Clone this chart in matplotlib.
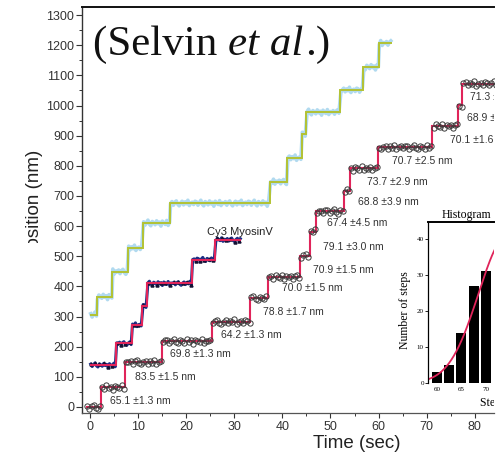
import numpy as np
import matplotlib
matplotlib.use("Agg")
import matplotlib.pyplot as plt
from matplotlib import font_manager
from matplotlib.transforms import Bbox
from matplotlib.ticker import MultipleLocator

# ---------------- data ----------------
# bottom trace: open circles + red step fit
trace3_levels = [0, 65.1, 148.6, 218.4, 282.6, 361.4, 431.4, 502.3, 581.4,
                 648.8, 717.6, 791.3, 862.0, 932.1, 1001.0, 1072.3]
trace3_edges = [-0.8, 2.3, 7.3, 14.9, 25.3, 33.3, 37.0, 43.7, 45.7, 46.9,
                52.8, 54.0, 59.9, 71.2, 76.6, 77.4, 86.0]
step_labels = ["65.1 \u00b11.3 nm", "83.5 \u00b11.5 nm", "69.8 \u00b11.3 nm",
               "64.2 \u00b11.3 nm", "78.8 \u00b11.7 nm", "70.0 \u00b11.5 nm",
               "70.9 \u00b11.5 nm", "79.1 \u00b13.0 nm", "67.4 \u00b14.5 nm",
               "68.8 \u00b13.9 nm", "73.7 \u00b12.9 nm", "70.7 \u00b12.5 nm",
               "70.1 \u00b11.6 nm", "68.9 \u00b11.5 nm", "71.3 \u00b11.4 nm"]
label_t = [4.2, 9.4, 16.6, 27.2, 35.9, 39.9, 46.4, 48.4, 49.3, 55.7, 57.6,
           62.8, 74.8, 78.4, 79.0]
label_v = [20, 100, 176, 239, 315, 395, 454, 530, 610, 680, 746, 816, 886,
           959, 1029]

# Cy3 MyosinV trace: dark blue points + red step fit
cy3_levels = [139, 211, 272, 335, 410, 489, 555]
cy3_edges = [0.0, 5.4, 8.7, 10.9, 11.9, 21.2, 26.0, 31.5]

# upper trace: light-blue points + yellow-green step fit
green_levels = [305, 366, 449, 527, 610, 676, 747, 826, 905, 978, 1051,
                1128, 1207]
green_edges = [0.0, 1.4, 4.6, 7.9, 11.0, 16.6, 37.4, 41.0, 44.0, 45.0, 52.0,
               56.8, 60.0, 62.8]

# scatter of the measured points about the plateaus (nm, estimated)
scatter_dev = [4, -6, 2, 9, -3, -8, 5, 1, -5, 7, -2, 3, -9, 6, 0, -4, 8, -7,
               2, -1, 5, -6, 3, 7, -3, -8, 1, 6, -5, 4, -2, 9, -7, 0, 3, -4, 6]

# histogram inset
hist_centers = [60, 62.5, 65, 67.5, 70]
hist_counts = [3, 5, 14, 27, 31]
fit_mu, fit_sigma, fit_amp = 74.5, 6.0, 41.0

# ---------------- styling ----------------
names = {f.name for f in font_manager.fontManager.ttflist}
SANS = "Liberation Sans"
NARROW = "Liberation Sans Narrow" if "Liberation Sans Narrow" in names else "Liberation Sans"
LBL_SIZE = 16 if NARROW == "Liberation Sans Narrow" else 13.5
SERIF = "Liberation Serif"
RED = "#e0245a"
TXT = "#333333"

W, H = 502, 457
RIGHT = 494  # the scanned figure ends here; the rest is white
fig = plt.figure(figsize=(W / 100, H / 100), dpi=100)
fig.patch.set_facecolor("white")


def fx(px):
    return px / W


def fy(py):
    return 1 - py / H


right_clip = Bbox([[0, 0], [RIGHT, H]])

ax = fig.add_axes([fx(82), fy(413), fx(RIGHT) - fx(82), fy(7) - fy(413)])
ax.set_xlim(-1.66, 84.0)
ax.set_ylim(-20, 1327)


def samples(levels, edges, dt, amp):
    ts, vs = [], []
    k = 0
    for i, lv in enumerate(levels):
        for t in np.arange(edges[i] + dt / 2, edges[i + 1], dt):
            ts.append(t)
            vs.append(lv + amp * scatter_dev[k % len(scatter_dev)])
            k += 1
    return np.array(ts), np.array(vs)


# upper (green) trace
gt, gv = samples(green_levels, green_edges, 0.3, 1.1)
ax.plot(gt, gv, color="#a9d6ee", lw=2.6, alpha=0.9, solid_joinstyle="round", zorder=2)
ax.stairs(green_levels, green_edges, baseline=None, color="#b3c232", lw=1.4, zorder=3)

# Cy3 trace
ct, cv = samples(cy3_levels, cy3_edges, 0.3, 0.8)
ax.plot(ct, cv, color="#1d2f85", lw=2.2, zorder=2)
ax.plot(ct[::3], cv[::3], ls="none", marker="^", ms=2.2, color="#111133", zorder=2)
ax.stairs(cy3_levels, cy3_edges, baseline=None, color=RED, lw=1.5, zorder=3)

# bottom trace
ax.stairs(trace3_levels, trace3_edges, baseline=None, color=RED, lw=1.5, zorder=3)
bt, bv = samples(trace3_levels, trace3_edges, 0.45, 0.9)
ax.plot(bt, bv, ls="none", marker="o", ms=3.8, mfc="none", mec="#3a3a3a",
        mew=0.7, zorder=4)

for s, t, v in zip(step_labels, label_t, label_v):
    ax.text(t, v, s, fontsize=7.5, family=SANS, color=TXT, va="center",
            ha="left", zorder=5, clip_on=True)
ax.text(24.3, 580, "Cy3 MyosinV", fontsize=8, family=SANS, color="#222222",
        va="center", ha="left", zorder=5)

# axes cosmetics
ax.xaxis.set_major_locator(MultipleLocator(10))
ax.xaxis.set_minor_locator(MultipleLocator(5))
ax.yaxis.set_major_locator(MultipleLocator(100))
ax.yaxis.set_minor_locator(MultipleLocator(50))
ax.tick_params(axis="y", which="major", length=4, width=0.8, pad=1.5,
               labelsize=9, colors=TXT, direction="out")
ax.tick_params(axis="y", which="minor", length=2.5, width=0.7, colors=TXT, direction="out")
ax.tick_params(axis="x", which="major", length=3.5, width=0.8, pad=2,
               labelsize=9, colors=TXT, direction="out")
ax.tick_params(axis="x", which="minor", length=2, width=0.7, colors=TXT, direction="out")
for lab in ax.get_xticklabels() + ax.get_yticklabels():
    lab.set_family(SANS)
ax.spines["right"].set_visible(False)
ax.spines["top"].set_linewidth(1.4)
ax.spines["top"].set_color("#111111")
ax.spines["left"].set_linewidth(1.0)
ax.spines["left"].set_color("#333333")
ax.spines["bottom"].set_linewidth(0.9)
ax.spines["bottom"].set_color("#555555")

# axis labels
fig.text(fx(357), fy(443), "Time (sec)", family=NARROW, fontsize=LBL_SIZE,
         color="#222222", ha="center", va="center")

r = fig.canvas.get_renderer()
ylab = fig.text(fx(35), fy(150), "Position (nm)", family=NARROW, fontsize=LBL_SIZE,
                color="#222222", rotation=90, ha="center", va="top")
prop = ylab.get_fontproperties()
w_full, _, _ = r.get_text_width_height_descent("Position (nm)", prop, ismath=False)
w_p, _, _ = r.get_text_width_height_descent("P", prop, ismath=False)
w_o, _, _ = r.get_text_width_height_descent("o", prop, ismath=False)
y_top_disp = fy(150) * H
y_clip = y_top_disp - w_full + w_p + 0.5 * w_o
ylab.set_clip_box(Bbox([[0, y_clip], [W, H]]))
ylab.set_clip_on(True)

# title "(Selvin et al.)"
yb = fy(55)
t1 = fig.text(fx(93), yb, "(Selvin ", family=SERIF, fontsize=31, va="baseline", color="#111111")
bb1 = t1.get_window_extent(r)
t2 = fig.text(bb1.x1 / W, yb, "et al", family=SERIF, style="italic", fontsize=31,
              va="baseline", color="#111111")
bb2 = t2.get_window_extent(r)
fig.text(bb2.x1 / W + 0.003, yb, ".)", family=SERIF, fontsize=31, va="baseline", color="#111111")

# ---------------- histogram inset ----------------
ins = fig.add_axes([fx(428), fy(383), fx(RIGHT) - fx(428), fy(222) - fy(383)])
ins.set_facecolor("white")
ins.bar(hist_centers, hist_counts, width=2.0, color="black")
xs = np.linspace(58.5, 74.5, 200)
ins.plot(xs, fit_amp * np.exp(-(xs - fit_mu) ** 2 / (2 * fit_sigma ** 2)),
         color=RED, lw=1.3)
ins.set_xlim(58.2, 71.65)
ins.set_ylim(0, 44.7)
ins.set_xticks([60, 65, 70])
ins.set_yticks([0, 10, 20, 30, 40])
ins.tick_params(axis="y", length=2, width=0.6, pad=1, labelsize=5)
ins.tick_params(axis="x", length=0, pad=3, labelsize=5)
for lab in ins.get_xticklabels() + ins.get_yticklabels():
    lab.set_family(SERIF)
ins.spines["right"].set_visible(False)
ins.spines["bottom"].set_visible(False)
ins.spines["top"].set_linewidth(1.4)
ins.spines["left"].set_linewidth(0.9)

t_hist = fig.text(fx(442), fy(215), "Histogram", family=SERIF, fontsize=8.5,
                  va="center", ha="left")
fig.text(fx(405), fy(310), "Number of steps", family=SERIF, fontsize=8.5,
         rotation=90, va="center", ha="center")
t_step = fig.text(fx(480), fy(403), "Step size (nm)", family=SERIF, fontsize=8.5,
                  va="center", ha="left")
for t in (t_hist, t_step):
    t.set_clip_box(right_clip)
    t.set_clip_on(True)

fig.savefig("out.png", dpi=100, facecolor="white")
